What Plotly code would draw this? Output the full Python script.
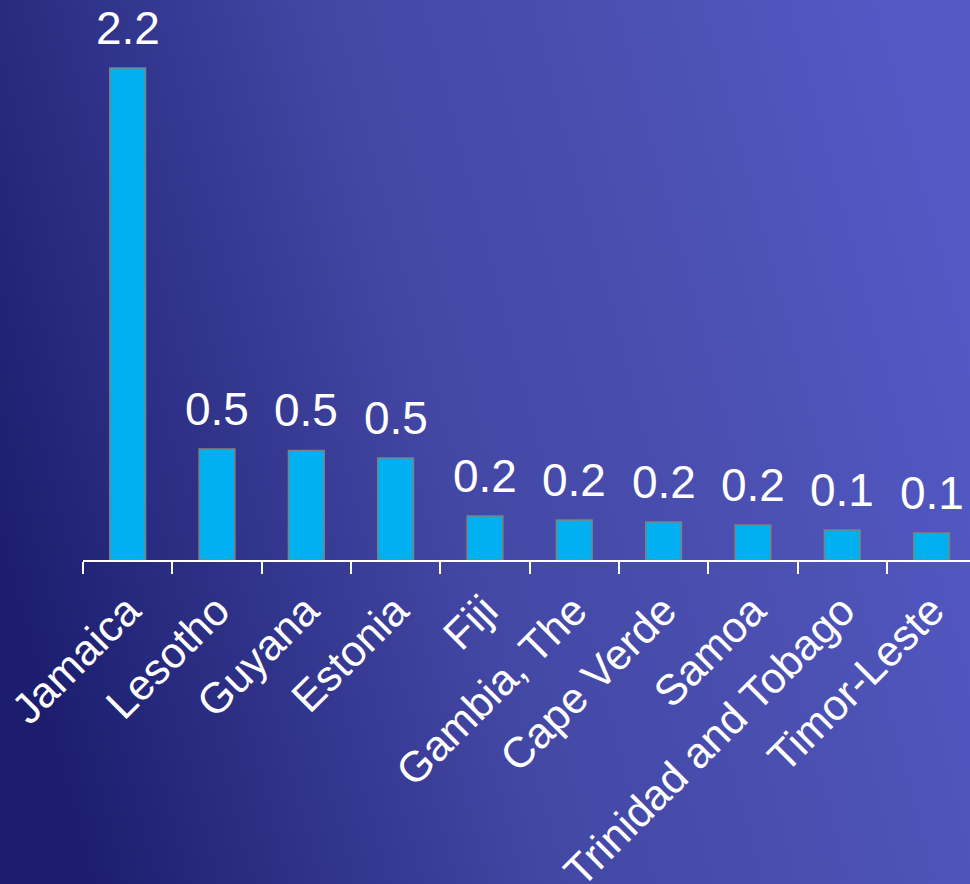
import base64
import plotly.graph_objects as go

# Countries and their values
countries = ["Jamaica", "Lesotho", "Guyana", "Estonia", "Fiji", "Gambia, The",
             "Cape Verde", "Samoa", "Trinidad and Tobago", "Timor-Leste"]
values = [2.2, 0.496, 0.49, 0.456, 0.197, 0.179, 0.17, 0.157, 0.134, 0.121]

W, H = 970, 884
L, R, T, B = 83, 0, 20, 324
PW, PH = W - L - R, H - T - B

# Blue gradient backdrop as an inline SVG image
svg = f"""<svg xmlns='http://www.w3.org/2000/svg' width='{W}' height='{H}' viewBox='0 0 {W} {H}' preserveAspectRatio='none'>
<defs><linearGradient id='g' x1='0' y1='0.62' x2='1' y2='0.38'>
<stop offset='0' stop-color='#1c1d6f'/>
<stop offset='0.12' stop-color='#26297c'/>
<stop offset='0.45' stop-color='#4347a4'/>
<stop offset='0.75' stop-color='#4b50b2'/>
<stop offset='1' stop-color='#5259c4'/>
</linearGradient></defs>
<rect width='{W}' height='{H}' fill='url(#g)'/></svg>"""
bg_src = "data:image/svg+xml;base64," + base64.b64encode(svg.encode()).decode()

fig = go.Figure(go.Bar(
    x=countries,
    y=values,
    width=0.4,
    marker=dict(color="#00b0f0", line=dict(color="#808080", width=1.5)),
    cliponaxis=False,
))

# Value labels above each bar (one decimal place)
for c, v in zip(countries, values):
    fig.add_annotation(
        x=c, y=v, text=f"{v:.1f}", showarrow=False,
        yanchor="bottom", yshift=12,
        font=dict(color="white", size=46, family="Arial, Liberation Sans"),
    )

fig.update_layout(
    width=W, height=H,
    margin=dict(l=L, r=R, t=T, b=B, autoexpand=False),
    paper_bgcolor="#2a2d80",
    plot_bgcolor="rgba(0,0,0,0)",
    showlegend=False,
    font=dict(family="Arial, Liberation Sans", color="white"),
    images=[dict(
        source=bg_src, xref="paper", yref="paper",
        x=-L / PW, y=1 + T / PH, sizex=W / PW, sizey=H / PH,
        xanchor="left", yanchor="top", sizing="stretch", layer="below",
    )],
    xaxis=dict(
        range=[-0.5, 9.43], automargin=False,
        showline=True, linecolor="white", linewidth=2,
        ticks="outside", tickson="boundaries", ticklen=12, tickwidth=2, tickcolor="white",
        tickangle=-45, ticklabelstandoff=6,
        tickfont=dict(size=43, color="white"),
        showgrid=False, zeroline=False,
    ),
    yaxis=dict(
        range=[0, PH / 223.6], automargin=False,
        visible=False, showgrid=False, zeroline=False,
    ),
)

fig.write_html("out.html")
